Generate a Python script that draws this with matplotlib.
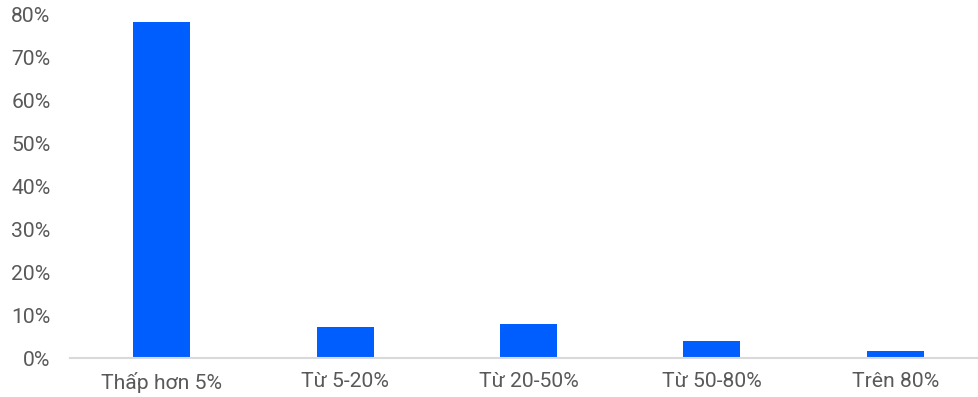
import matplotlib.pyplot as plt
from matplotlib.ticker import PercentFormatter

plt.rcParams['font.family'] = ['Roboto', 'DejaVu Sans']

categories = ['Thấp hơn 5%', 'Từ 5-20%', 'Từ 20-50%', 'Từ 50-80%', 'Trên 80%']
shares = [78.3, 7.2, 8.1, 4.0, 1.8]
yticks = [0, 10, 20, 30, 40, 50, 60, 70, 80]

fig = plt.figure(figsize=(9.79, 3.97), dpi=100)
# axes run a little past the right edge so the last slot is cut off
ax = fig.add_axes([70 / 979, 0.0975, 917 / 979, 0.865])

x = range(len(categories))
ax.bar(x, shares, width=0.31, color='#005EFF', zorder=2)

ax.set_xlim(-0.5, len(categories) - 0.5)
ax.set_ylim(0, 80)
ax.set_yticks(yticks)
ax.yaxis.set_major_formatter(PercentFormatter(decimals=0))
ax.set_xticks(list(x))
ax.set_xticklabels(categories)

for side in ['top', 'right', 'left']:
    ax.spines[side].set_visible(False)
ax.spines['bottom'].set_color('#d9d9d9')
ax.spines['bottom'].set_linewidth(1.5)

ax.tick_params(axis='both', length=0, labelsize=15.2, labelcolor='#595959')
ax.tick_params(axis='y', pad=14)
ax.tick_params(axis='x', pad=10)

fig.savefig('out.png', dpi=100)
